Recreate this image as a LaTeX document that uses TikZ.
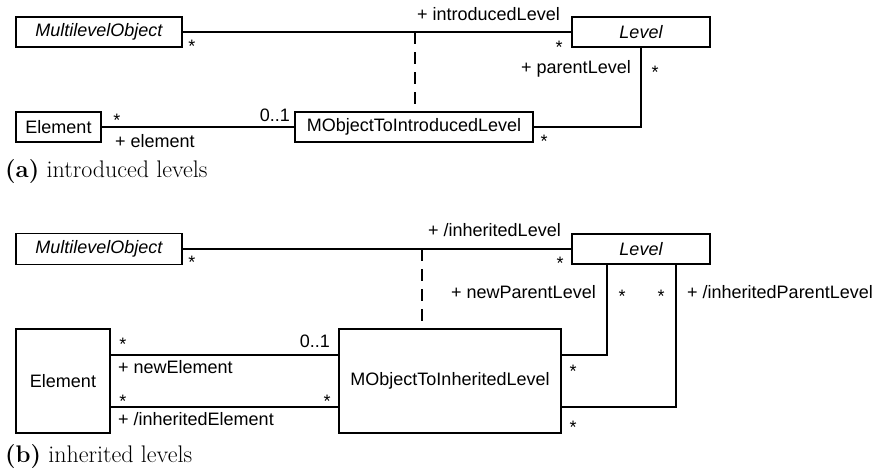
\documentclass[tikz,border=0pt]{standalone}
\usepackage{fontspec}
\newfontfamily\diagfont{Liberation Sans}
\begin{document}
\begin{tikzpicture}[x=1pt,y=-1pt,
  cls/.style={draw, line width=1.5pt, inner sep=0pt, font=\diagfont\fontsize{18}{21}\selectfont},
  lbl/.style={inner sep=0pt, font=\diagfont\fontsize{18}{21}\selectfont},
  mult/.style={inner sep=0pt, anchor=base, yshift=-10pt, font=\diagfont\fontsize{18}{21}\selectfont},
  assoc/.style={line width=1.5pt},
  dep/.style={line width=1.5pt, dash pattern=on 12pt off 8pt},
  capt/.style={inner sep=0pt, anchor=base west, font=\fontsize{24}{27}\selectfont}]
\useasboundingbox (0,0) rectangle (881,469);

% ---------- (a) ----------
\node[cls, minimum width=166pt, minimum height=30pt, font=\diagfont\fontsize{18}{21}\selectfont\itshape] (mo1) at (99,32) {MultilevelObject};
\node[cls, minimum width=138pt, minimum height=30pt, font=\diagfont\fontsize{18}{21}\selectfont\itshape] (lv1) at (641,32) {Level};
\node[cls, minimum width=85pt, minimum height=30pt] (el1) at (58.5,127) {Element};
\node[cls, minimum width=238pt, minimum height=30pt] (mt1) at (414,127) {MObjectToIntroducedLevel};

\draw[assoc] (mo1.east) -- (lv1.west);
\coordinate (j1) at (415,32);
\draw[dep] (j1) -- (j1 |- mt1.north);
\draw[assoc] (el1.east) -- (mt1.west);
\draw[assoc] (mt1.east) -| (lv1.south);

\node[lbl, anchor=base east] (t1) at (560,20.5) {+ introducedLevel};
\node[lbl, anchor=base east] (t2) at (631,73) {+ parentLevel};
\node[lbl, anchor=base west] (t3) at (115,147) {+ element};
\node[lbl, anchor=base east] (t4) at (290,121) {0..1};
\node[mult] (s1) at (192,42) {*};
\node[mult] (s2) at (559,43) {*};
\node[mult] (s3) at (655,68) {*};
\node[mult] (s4) at (544,137) {*};
\node[mult] (s5) at (117,116) {*};

\node[capt] (ca) at (5,177.5) {\textbf{(a)} introduced levels};

% ---------- (b) ----------
\node[cls, minimum width=166pt, minimum height=31pt, font=\diagfont\fontsize{18}{21}\selectfont\itshape] (mo2) at (99,249) {MultilevelObject};
\node[cls, minimum width=138pt, minimum height=30pt, font=\diagfont\fontsize{18}{21}\selectfont\itshape] (lv2) at (641,249) {Level};
\node[cls, minimum width=94pt, minimum height=104pt] (el2) at (63,381) {Element};
\node[cls, minimum width=222pt, minimum height=104pt] (mt2) at (450,381) {MObjectToInheritedLevel};

\draw[assoc] (mo2.east) -- (lv2.west);
\coordinate (j2) at (422,249);
\draw[dep] (j2) -- (j2 |- mt2.north);
\draw[assoc] (el2.east |- 0,355) -- (mt2.west |- 0,355);
\draw[assoc] (el2.east |- 0,407) -- (mt2.west |- 0,407);
\draw[assoc] (mt2.east |- 0,355) -| (607,0 |- lv2.south);
\draw[assoc] (mt2.east |- 0,407) -| (676,0 |- lv2.south);

\node[lbl, anchor=base east] (u1) at (561,236.5) {+ /inheritedLevel};
\node[lbl, anchor=base east] (u2) at (596,298) {+ newParentLevel};
\node[lbl, anchor=base west] (u3) at (687,298) {+ /inheritedParentLevel};
\node[lbl, anchor=base east] (u4) at (330,347) {0..1};
\node[lbl, anchor=base west] (u5) at (118,373) {+ newElement};
\node[lbl, anchor=base west] (u6) at (118,425) {+ /inheritedElement};
\node[mult] (r1) at (192,258) {*};
\node[mult] (r2) at (560,259) {*};
\node[mult] (r3) at (622,292) {*};
\node[mult] (r4) at (661,292) {*};
\node[mult] (r5) at (573,367) {*};
\node[mult] (r6) at (573,423) {*};
\node[mult] (r7) at (123,340) {*};
\node[mult] (r8) at (123,397) {*};
\node[mult] (r9) at (327,397) {*};

\node[capt] (cb) at (5,462) {\textbf{(b)} inherited levels};
\end{tikzpicture}
\end{document}
